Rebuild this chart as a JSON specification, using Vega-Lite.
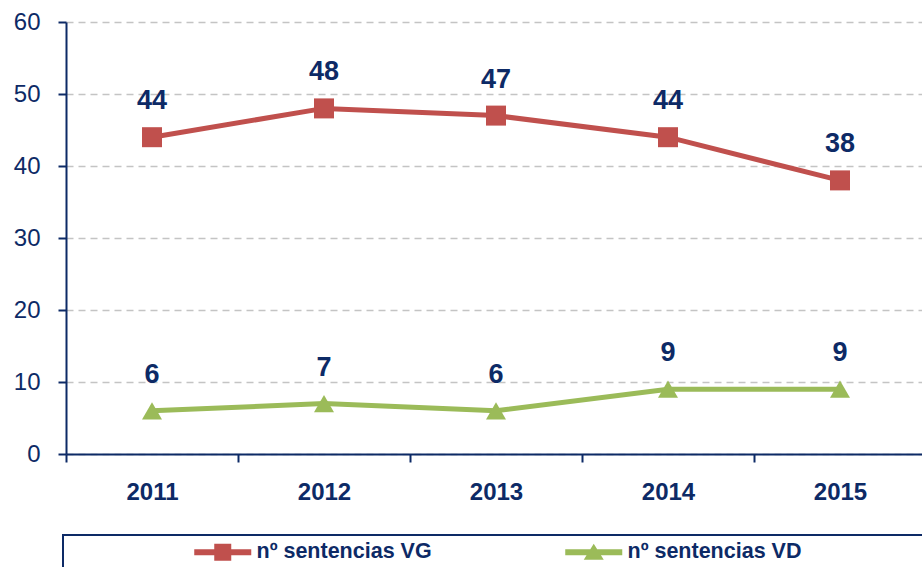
{
  "$schema": "https://vega.github.io/schema/vega-lite/v6.json",
  "autosize": "none",
  "width": 860,
  "height": 432,
  "padding": {"left": 66, "top": 22, "right": 0, "bottom": 113},
  "background": "white",
  "config": {
    "view": {"stroke": null},
    "font": "Liberation Sans"
  },
  "data": {
    "values": [
      {"year": "2011", "series": "nº sentencias VG", "value": 44},
      {"year": "2012", "series": "nº sentencias VG", "value": 48},
      {"year": "2013", "series": "nº sentencias VG", "value": 47},
      {"year": "2014", "series": "nº sentencias VG", "value": 44},
      {"year": "2015", "series": "nº sentencias VG", "value": 38},
      {"year": "2011", "series": "nº sentencias VD", "value": 6},
      {"year": "2012", "series": "nº sentencias VD", "value": 7},
      {"year": "2013", "series": "nº sentencias VD", "value": 6},
      {"year": "2014", "series": "nº sentencias VD", "value": 9},
      {"year": "2015", "series": "nº sentencias VD", "value": 9}
    ]
  },
  "encoding": {
    "x": {
      "field": "year", "type": "ordinal",
      "scale": {"type": "band", "paddingInner": 0, "paddingOuter": 0},
      "axis": {
        "title": null, "labelAngle": 0, "labelFont": "Liberation Sans", "labelFontWeight": "bold",
        "labelFontSize": 24, "labelColor": "#0D2A66", "labelBaseline": "alphabetic", "labelPadding": 37,
        "domainColor": "#0D2A66", "domainWidth": 2, "tickColor": "#0D2A66", "tickWidth": 2,
        "tickSize": 8, "tickBand": "extent", "grid": false
      }
    },
    "y": {
      "field": "value", "type": "quantitative",
      "scale": {"domain": [0, 60]},
      "axis": {
        "title": null, "values": [0, 10, 20, 30, 40, 50, 60], "labelFont": "Liberation Sans",
        "labelFontSize": 24, "labelColor": "#0D2A66", "labelPadding": 18,
        "domainColor": "#0D2A66", "domainWidth": 2, "tickColor": "#0D2A66", "tickWidth": 2,
        "tickSize": 8, "grid": true, "gridColor": "#C4C4C4", "gridDash": [7, 5], "gridWidth": 1.5
      }
    },
    "color": {
      "field": "series", "type": "nominal",
      "scale": {"domain": ["nº sentencias VG", "nº sentencias VD"], "range": ["#C0504D", "#9BBB59"]},
      "legend": {
        "title": "\u2800\u2800\u2800\u2800\u2800\u2800\u2800\u2800\u2800\u2800\u2800\u2800\u2800\u2800\u2800",
        "titleOrient": "right", "titleFontSize": 20, "titleFont": "DejaVu Sans",
        "orient": "none", "legendX": -3, "legendY": 513, "direction": "horizontal",
        "strokeColor": "#0D2A66", "padding": 6, "symbolOffset": 163,
        "symbolSize": 289, "symbolStrokeWidth": 0, "labelFont": "Liberation Sans",
        "labelFontWeight": "bold", "labelFontSize": 21.5, "labelColor": "#0D2A66", "labelOffset": 3,
        "columnPadding": 8, "labelLimit": 400,
        "encode": {
          "legend": {"update": {"strokeWidth": {"value": 2}}},
          "symbols": {
            "update": {
              "shape": {"signal": "datum.value === 'nº sentencias VG' ? 'M-5.706,-0.353H1V0.353H-5.706Z M-3.353,-1H-1.353V1H-3.353Z' : 'M-5.706,-0.353H1V0.353H-5.706Z M-2.353,-0.99L-1.176,0.9H-3.529Z'"},
              "fill": {"signal": "datum.value === 'nº sentencias VG' ? '#C0504D' : '#9BBB59'"},
              "size": {"value": 289},
              "fillOpacity": {"value": 1},
              "opacity": {"value": 1},
              "strokeWidth": {"value": 0}
            }
          }
        }
      }
    }
  },
  "layer": [
    {"mark": {"type": "line", "strokeWidth": 5}},
    {
      "transform": [{"filter": "datum.series === 'nº sentencias VG'"}],
      "mark": {"type": "point", "filled": true, "opacity": 1, "shape": "square", "size": 400}
    },
    {
      "transform": [{"filter": "datum.series === 'nº sentencias VD'"}],
      "mark": {"type": "point", "filled": true, "opacity": 1, "shape": "triangle-up", "size": 400}
    },
    {
      "mark": {"type": "text", "dy": -28, "baseline": "alphabetic", "fontSize": 27, "fontWeight": "bold", "font": "Liberation Sans", "color": "#0D2A66"},
      "encoding": {"text": {"field": "value", "type": "quantitative"}, "color": {"value": "#0D2A66"}}
    }
  ]
}
